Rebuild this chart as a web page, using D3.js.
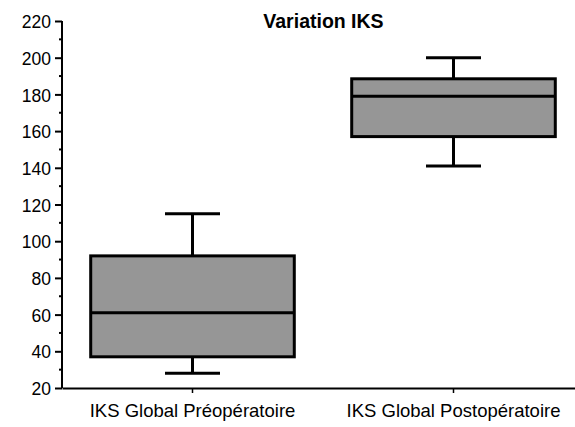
<!DOCTYPE html>
<html><head><meta charset="utf-8">
<script src="https://cdn.jsdelivr.net/npm/d3@7"></script>
<style>body{margin:0;background:#fff}svg{display:block}</style>
</head><body>
<script>
const categories = ["IKS Global Préopératoire", "IKS Global Postopératoire"];
const whiskerLow = [28, 141];
const q1 = [37, 157];
const median = [61, 179];
const q3 = [92, 188.5];
const whiskerHigh = [115, 200];
const yTicks = [20, 40, 60, 80, 100, 120, 140, 160, 180, 200, 220];
const title = "Variation IKS";

const W = 575, H = 427;
const svg = d3.select("body").append("svg").attr("width", W).attr("height", H);
const font = "'Liberation Sans', Arial, sans-serif";

const y = d3.scaleLinear().domain([20, 220]).range([388, 21]);
const x = d3.scaleBand().domain(categories).range([62, 584]);

// y axis
const yAxis = svg.append("g").attr("transform", "translate(62,0)");
yAxis.call(d3.axisLeft(y).tickValues(yTicks).tickSize(7).tickPadding(4).tickFormat(d3.format("d")));
const minor = d3.range(30, 220, 20);
yAxis.selectAll(".minor").data(minor).enter().append("line")
  .attr("x1", -3).attr("x2", 0).attr("y1", d => y(d)).attr("y2", d => y(d))
  .attr("stroke", "#000").attr("stroke-width", 2);
yAxis.select(".domain").attr("stroke-width", 2).attr("d", `M0,${y(220)}V${y(20)}`);
yAxis.selectAll(".tick line").attr("stroke-width", 2);
yAxis.selectAll("text").attr("font-family", font).attr("font-size", 17.5).attr("fill", "#000").attr("dy", "0.38em");

// x axis
const xAxis = svg.append("g").attr("transform", "translate(0,388)");
xAxis.call(d3.axisBottom(x).tickSize(5).tickPadding(11).tickSizeOuter(0));
xAxis.select(".domain").attr("stroke-width", 2);
xAxis.selectAll(".tick line").attr("stroke-width", 1.5);
xAxis.selectAll("text").attr("font-family", font).attr("font-size", 18.5).attr("fill", "#000");

// boxes
const boxW = x.bandwidth() * 0.78;
const capW = 55;
categories.forEach((c, i) => {
  const cx = x(c) + x.bandwidth() / 2;
  const g = svg.append("g");
  g.append("line").attr("x1", cx).attr("x2", cx).attr("y1", y(whiskerHigh[i])).attr("y2", y(q3[i]))
    .attr("stroke", "#000").attr("stroke-width", 3);
  g.append("line").attr("x1", cx).attr("x2", cx).attr("y1", y(q1[i])).attr("y2", y(whiskerLow[i]))
    .attr("stroke", "#000").attr("stroke-width", 3);
  g.append("line").attr("x1", cx - capW / 2).attr("x2", cx + capW / 2).attr("y1", y(whiskerHigh[i])).attr("y2", y(whiskerHigh[i]))
    .attr("stroke", "#000").attr("stroke-width", 3);
  g.append("line").attr("x1", cx - capW / 2).attr("x2", cx + capW / 2).attr("y1", y(whiskerLow[i])).attr("y2", y(whiskerLow[i]))
    .attr("stroke", "#000").attr("stroke-width", 3);
  g.append("rect").attr("x", cx - boxW / 2).attr("width", boxW)
    .attr("y", y(q3[i])).attr("height", y(q1[i]) - y(q3[i]))
    .attr("fill", "#969696").attr("stroke", "#000").attr("stroke-width", 3);
  g.append("line").attr("x1", cx - boxW / 2).attr("x2", cx + boxW / 2).attr("y1", y(median[i])).attr("y2", y(median[i]))
    .attr("stroke", "#000").attr("stroke-width", 3);
});

svg.append("text").attr("x", 323.5).attr("y", 28).attr("text-anchor", "middle")
  .attr("font-family", font).attr("font-weight", "bold").attr("font-size", 19.5).text(title);
</script>
</body></html>
